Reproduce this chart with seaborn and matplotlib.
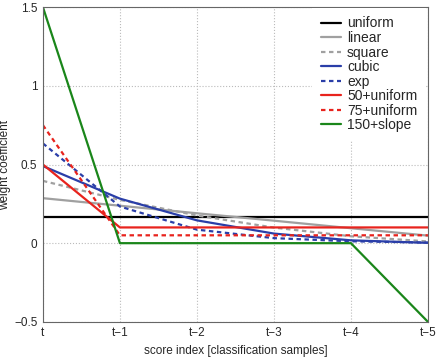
import numpy as np
import seaborn as sns
import matplotlib.pyplot as plt

# weights per score index (t, t-1, ..., t-5)
x_labels = ['t', 't\u22121', 't\u22122', 't\u22123', 't\u22124', 't\u22125']
uniform = [0.167, 0.167, 0.167, 0.167, 0.167, 0.167]
linear = [0.286, 0.238, 0.190, 0.143, 0.095, 0.048]
square = [0.396, 0.275, 0.176, 0.099, 0.044, 0.011]
cubic = [0.490, 0.283, 0.145, 0.061, 0.018, 0.002]
exp_w = [0.634, 0.233, 0.086, 0.032, 0.012, 0.004]
u50 = [0.5, 0.1, 0.1, 0.1, 0.1, 0.1]
u75 = [0.75, 0.05, 0.05, 0.05, 0.05, 0.05]
slope150 = [1.5, 0.0, 0.0, 0.0, 0.0, -0.5]

sns.set_style('white')
plt.rcParams['font.family'] = ['Liberation Sans', 'DejaVu Sans']
plt.rcParams['font.size'] = 8.5

fig = plt.figure(figsize=(4.38, 3.58), dpi=100)
ax = fig.add_axes([0.098, 0.101, 0.879, 0.879])

xs = np.arange(len(x_labels))
dash = (0, (2.0, 1.6))
series = [
    ('uniform', uniform, 'black', '-'),
    ('linear', linear, '#a0a0a0', '-'),
    ('square', square, '#a0a0a0', dash),
    ('cubic', cubic, '#2a3ea8', '-'),
    ('exp', exp_w, '#2a3ea8', dash),
    ('50+uniform', u50, '#e8231d', '-'),
    ('75+uniform', u75, '#e8231d', dash),
    ('150+slope', slope150, '#1a861a', '-'),
]
for name, vals, col, ls in series:
    sns.lineplot(x=xs, y=vals, ax=ax, color=col, linestyle=ls, lw=1.6, label=name)

ax.set_xlim(0, 5)
ax.set_ylim(-0.5, 1.5)
ax.set_xticks(xs)
ax.set_xticklabels(x_labels)
ax.set_yticks([-0.5, 0, 0.5, 1, 1.5])
ax.set_yticklabels(['\u22120.5', '0', '0.5', '1', '1.5'])
ax.grid(True, linestyle=':', color='#bbbbbb', lw=0.8)
for s in ax.spines.values():
    s.set_color('#666666')
    s.set_linewidth(0.8)
ax.tick_params(direction='in', length=3, color='#666666', pad=4)
ax.set_xlabel('score index [classification samples]', labelpad=4)
ax.set_ylabel('weight coefficient', labelpad=2)

leg = ax.legend(loc='upper left', bbox_to_anchor=(0.70, 0.997), borderaxespad=0,
                fancybox=False, fontsize=10, handlelength=1.45, handletextpad=0.45,
                labelspacing=0.04, borderpad=0.6, framealpha=1)
leg.get_frame().set_edgecolor('white')
leg.get_frame().set_linewidth(0)

plt.savefig('out.png', dpi=100)
